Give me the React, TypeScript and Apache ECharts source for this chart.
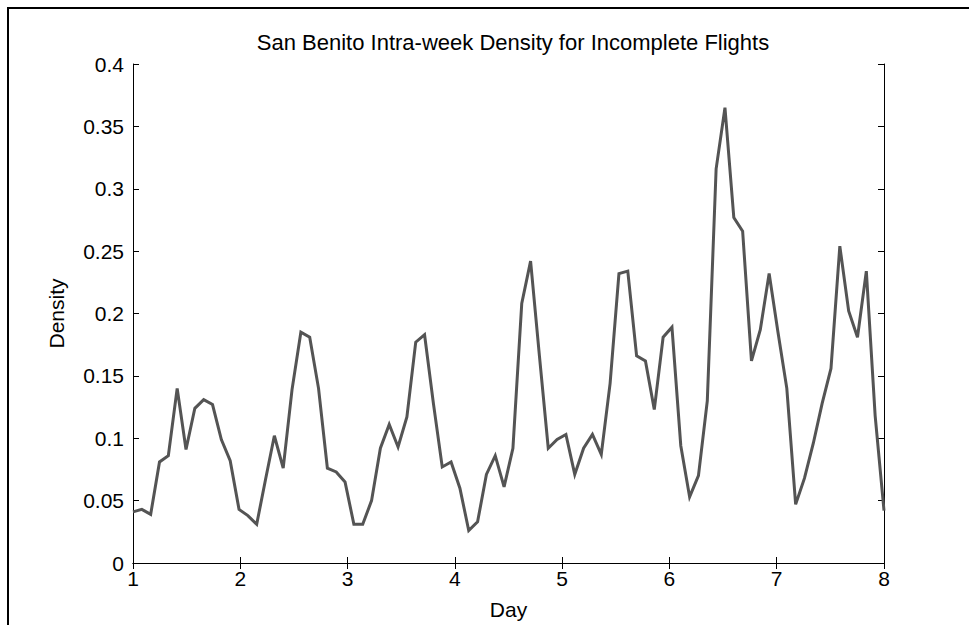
import React, { useEffect, useRef } from "react";
import * as echarts from "echarts";

// Two-hour density samples spread evenly from day 1 to day 8
const DAY_START = 1;
const DAY_END = 8;

const density = [
  0.041, 0.043, 0.039, 0.081, 0.086, 0.14, 0.091, 0.124, 0.131, 0.127,
  0.099, 0.082, 0.043, 0.038, 0.031, 0.067, 0.102, 0.076, 0.139, 0.185,
  0.181, 0.14, 0.076, 0.073, 0.065, 0.031, 0.031, 0.05, 0.092, 0.111,
  0.093, 0.117, 0.177, 0.183, 0.128, 0.077, 0.081, 0.06, 0.026, 0.033,
  0.071, 0.086, 0.061, 0.092, 0.208, 0.242, 0.166, 0.092, 0.099, 0.103,
  0.071, 0.092, 0.103, 0.087, 0.144, 0.232, 0.234, 0.166, 0.162, 0.123,
  0.181, 0.189, 0.094, 0.053, 0.07, 0.13, 0.316, 0.365, 0.277, 0.266,
  0.162, 0.187, 0.232, 0.185, 0.14, 0.047, 0.068, 0.096, 0.128, 0.156,
  0.254, 0.202, 0.181, 0.234, 0.118, 0.042,
];

const dayTicks = [1, 2, 3, 4, 5, 6, 7, 8];
const densityTicks = [0, 0.05, 0.1, 0.15, 0.2, 0.25, 0.3, 0.35, 0.4];

const FONT = "'Liberation Sans', Arial, Helvetica, sans-serif";
const LABEL_SIZE = 21;

export default function App() {
  const ref = useRef<HTMLDivElement>(null);

  useEffect(() => {
    if (!ref.current) return;
    const chart = echarts.init(ref.current, null, { renderer: "svg" });

    const step = (DAY_END - DAY_START) / (density.length - 1);
    const points = density.map((v, i) => [DAY_START + i * step, v]);

    const xMin = dayTicks[0];
    const xMax = dayTicks[dayTicks.length - 1];
    const yMin = densityTicks[0];
    const yMax = densityTicks[densityTicks.length - 1];

    const boxAxisLine = { show: true, lineStyle: { color: "#000", width: 1 } };
    const boxTick = { show: true, inside: true, length: 6, lineStyle: { color: "#000" } };
    const labelText = { fontFamily: FONT, fontSize: LABEL_SIZE, color: "#000" };

    chart.setOption({
      animation: false,
      backgroundColor: "#fff",
      title: {
        text: "San Benito Intra-week Density for Incomplete Flights",
        left: 508,
        top: 26,
        textAlign: "center",
        textStyle: { fontFamily: FONT, fontSize: 22, fontWeight: "normal", color: "#000" },
      },
      grid: { left: 133, right: 85, top: 64, bottom: 56, containLabel: false },
      xAxis: [
        {
          type: "value",
          min: xMin,
          max: xMax,
          interval: 1,
          name: "Day",
          nameLocation: "middle",
          nameGap: 36,
          nameTextStyle: labelText,
          axisLine: boxAxisLine,
          axisTick: boxTick,
          axisLabel: { ...labelText, margin: 5 },
          splitLine: { show: false },
        },
        {
          type: "value",
          position: "top",
          min: xMin,
          max: xMax,
          interval: 1,
          axisLine: boxAxisLine,
          axisTick: boxTick,
          axisLabel: { show: false },
          splitLine: { show: false },
        },
      ],
      yAxis: [
        {
          type: "value",
          min: yMin,
          max: yMax,
          interval: 0.05,
          name: "Density",
          nameLocation: "middle",
          nameGap: 66,
          nameRotate: 90,
          nameTextStyle: labelText,
          axisLine: boxAxisLine,
          axisTick: boxTick,
          axisLabel: { ...labelText, margin: 9 },
          splitLine: { show: false },
        },
        {
          type: "value",
          position: "right",
          min: yMin,
          max: yMax,
          interval: 0.05,
          axisLine: boxAxisLine,
          axisTick: boxTick,
          axisLabel: { show: false },
          splitLine: { show: false },
        },
      ],
      graphic: [
        { type: "line", shape: { x1: 8, y1: 8, x2: 8, y2: 625 }, style: { stroke: "#000", lineWidth: 2 } },
        { type: "line", shape: { x1: 7, y1: 8, x2: 969, y2: 8 }, style: { stroke: "#000", lineWidth: 2 } },
      ],
      series: [
        {
          type: "line",
          data: points,
          showSymbol: false,
          symbol: "none",
          lineStyle: { color: "#545454", width: 3, join: "miter" },
          xAxisIndex: 0,
          yAxisIndex: 0,
        },
      ],
    });

    return () => chart.dispose();
  }, []);

  return (
    <div
      ref={ref}
      style={{ position: "fixed", left: 0, top: 0, width: 969, height: 625, background: "#fff" }}
    />
  );
}
